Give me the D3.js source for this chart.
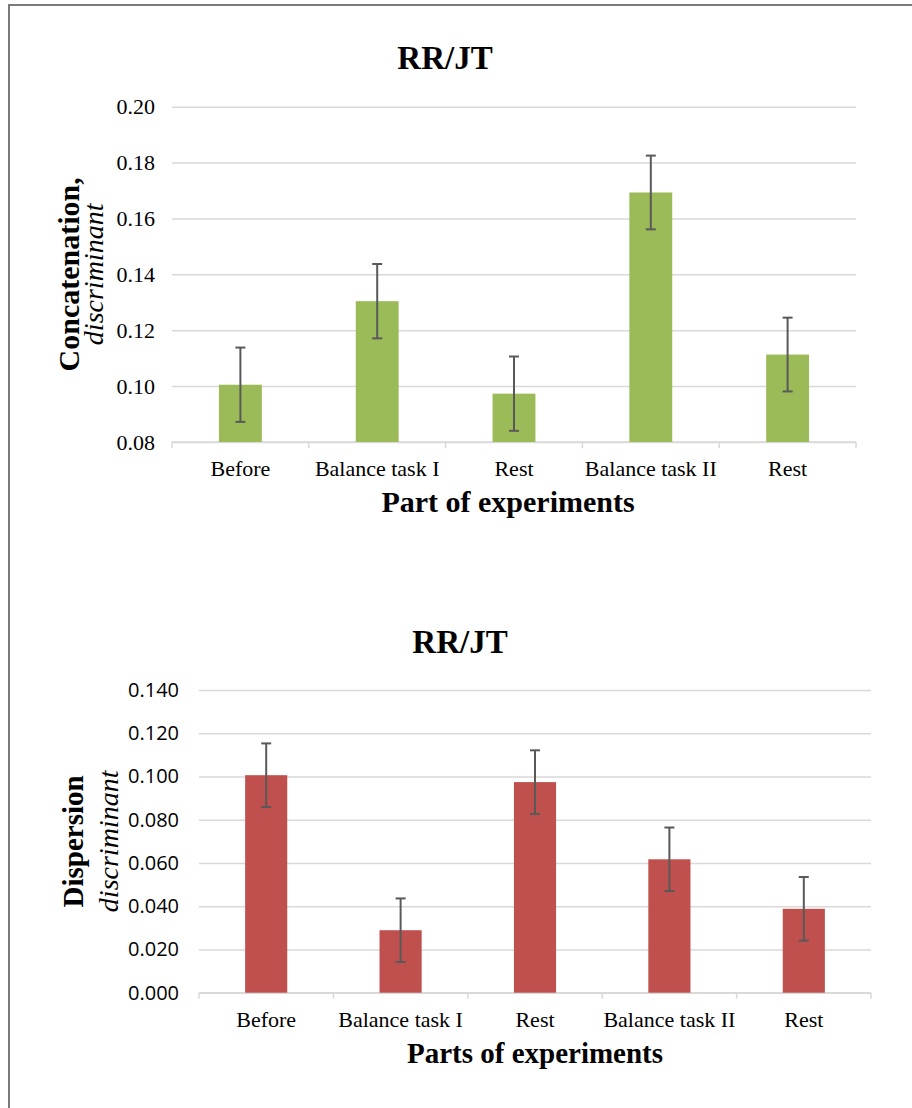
<!DOCTYPE html>
<html>
<head>
<meta charset="utf-8">
<script src="https://cdn.jsdelivr.net/npm/d3@7"></script>
<style>
  body { margin: 0; background: #fff; }
  svg { display: block; }
</style>
</head>
<body>
<svg id="svgfield" width="912" height="1108"></svg>
<script>
var categories = ["Before", "Balance task I", "Rest", "Balance task II", "Rest"];

// top chart: concatenation
var concat_values = [0.1005, 0.1304, 0.0973, 0.1693, 0.1113];
var concat_errors = [0.0133, 0.0133, 0.0133, 0.0132, 0.0132];
var concat_ticks = [0.08, 0.10, 0.12, 0.14, 0.16, 0.18, 0.20];

// bottom chart: dispersion
var disp_values = [0.1006, 0.0289, 0.0974, 0.0617, 0.0388];
var disp_errors = [0.0147, 0.0147, 0.0147, 0.0147, 0.0147];
var disp_ticks = [0.000, 0.020, 0.040, 0.060, 0.080, 0.100, 0.120, 0.140];

var svg = d3.select("#svgfield");
var serif = "'Liberation Serif', 'Times New Roman', serif";
var sans = "'Open Sans', 'Liberation Sans', sans-serif";
var grid_col = "#d9d9d9";
var err_col = "#595959";

// page frame
svg.append("path")
  .attr("d", "M9,1108 V5 H912")
  .attr("fill", "none").attr("stroke", "#7a7a7a").attr("stroke-width", 2);

var draw_chart = function(opt) {
  var g = svg.append("g");
  var gap = 0.6865;
  var x = d3.scaleBand().domain(d3.range(categories.length))
    .range([opt.left, opt.right]).paddingInner(gap).paddingOuter(gap / 2);
  var y = d3.scaleLinear().domain(opt.domain).range([opt.bottom, opt.top]);

  // gridlines + tick labels
  var yaxis = d3.axisLeft(y).tickValues(opt.ticks).tickFormat(d3.format(opt.fmt))
    .tickSize(-(opt.right - opt.left)).tickPadding(opt.tickPad);
  var ya = g.append("g").attr("transform", "translate(" + opt.left + ",0)").call(yaxis);
  ya.select(".domain").remove();
  ya.selectAll(".tick line").attr("stroke", grid_col).attr("stroke-width", 1.5);
  ya.selectAll(".tick text").attr("font-family", opt.tickFont).attr("font-size", opt.tickSize)
    .attr("fill", "#000");

  // x axis line with boundary ticks
  var bounds = d3.range(categories.length + 1).map(function(i) {
    return opt.left + i * x.step();
  });
  g.append("line").attr("x1", opt.left).attr("x2", opt.right)
    .attr("y1", y(opt.domain[0])).attr("y2", y(opt.domain[0]))
    .attr("stroke", grid_col).attr("stroke-width", 1.5);
  g.selectAll(".xtick").data(bounds).enter().append("line")
    .attr("x1", function(d) { return d; }).attr("x2", function(d) { return d; })
    .attr("y1", y(opt.domain[0])).attr("y2", y(opt.domain[0]) + 6)
    .attr("stroke", grid_col).attr("stroke-width", 1.5);

  g.selectAll(".xlab").data(categories).enter().append("text")
    .attr("x", function(d, i) { return x(i) + x.bandwidth() / 2; })
    .attr("y", opt.labelY)
    .attr("text-anchor", "middle").attr("font-family", serif).attr("font-size", 22)
    .text(function(d) { return d; });

  // bars
  g.selectAll(".bar").data(opt.values).enter().append("rect")
    .attr("x", function(d, i) { return x(i); })
    .attr("width", x.bandwidth())
    .attr("y", function(d) { return y(d); })
    .attr("height", function(d) { return y(opt.domain[0]) - y(d); })
    .attr("fill", opt.color);

  // error bars
  var eb = g.selectAll(".err").data(opt.values).enter().append("g")
    .attr("stroke", err_col).attr("stroke-width", 2);
  eb.append("line")
    .attr("x1", function(d, i) { return x(i) + x.bandwidth() / 2; })
    .attr("x2", function(d, i) { return x(i) + x.bandwidth() / 2; })
    .attr("y1", function(d, i) { return y(d + opt.errors[i]); })
    .attr("y2", function(d, i) { return y(d - opt.errors[i]); });
  [1, -1].forEach(function(s) {
    eb.append("line")
      .attr("x1", function(d, i) { return x(i) + x.bandwidth() / 2 - 5; })
      .attr("x2", function(d, i) { return x(i) + x.bandwidth() / 2 + 5; })
      .attr("y1", function(d, i) { return y(d + s * opt.errors[i]); })
      .attr("y2", function(d, i) { return y(d + s * opt.errors[i]); });
  });

  // titles
  g.append("text").attr("x", opt.titleX).attr("y", opt.titleY)
    .attr("text-anchor", "middle").attr("font-family", serif).attr("font-weight", "bold")
    .attr("font-size", 33).text("RR/JT");
  g.append("text").attr("x", opt.xTitleX).attr("y", opt.xTitleY)
    .attr("text-anchor", "middle").attr("font-family", serif).attr("font-weight", "bold")
    .attr("font-size", opt.xTitleSize).text(opt.xTitle);

  var cy = (opt.top + opt.bottom) / 2;
  g.append("text").attr("transform", "translate(" + opt.yTitleX[0] + "," + cy + ") rotate(-90)")
    .attr("text-anchor", "middle").attr("font-family", serif).attr("font-weight", "bold")
    .attr("font-size", opt.yTitleSize).text(opt.yTitle);
  g.append("text").attr("transform", "translate(" + opt.yTitleX[1] + "," + cy + ") rotate(-90)")
    .attr("text-anchor", "middle").attr("font-family", serif).attr("font-style", "italic")
    .attr("font-size", 28).text("discriminant");
};

draw_chart({
  values: concat_values, errors: concat_errors, ticks: concat_ticks,
  domain: [0.08, 0.20], fmt: ".2f", color: "#9bbb59",
  left: 172, right: 856, top: 106.7, bottom: 442,
  tickFont: serif, tickSize: 22, tickPad: 17, labelY: 476,
  titleX: 445, titleY: 69,
  xTitle: "Part of experiments", xTitleSize: 30, xTitleX: 508, xTitleY: 512,
  yTitle: "Concatenation,", yTitleSize: 30, yTitleX: [79, 103]
});

draw_chart({
  values: disp_values, errors: disp_errors, ticks: disp_ticks,
  domain: [0, 0.14], fmt: ".3f", color: "#c0504d",
  left: 199, right: 871, top: 690, bottom: 992.7,
  tickFont: sans, tickSize: 20, tickPad: 20, labelY: 1027,
  titleX: 460, titleY: 653,
  xTitle: "Parts of experiments", xTitleSize: 29, xTitleX: 535, xTitleY: 1063,
  yTitle: "Dispersion", yTitleSize: 29, yTitleX: [83, 118]
});
</script>
</body>
</html>
